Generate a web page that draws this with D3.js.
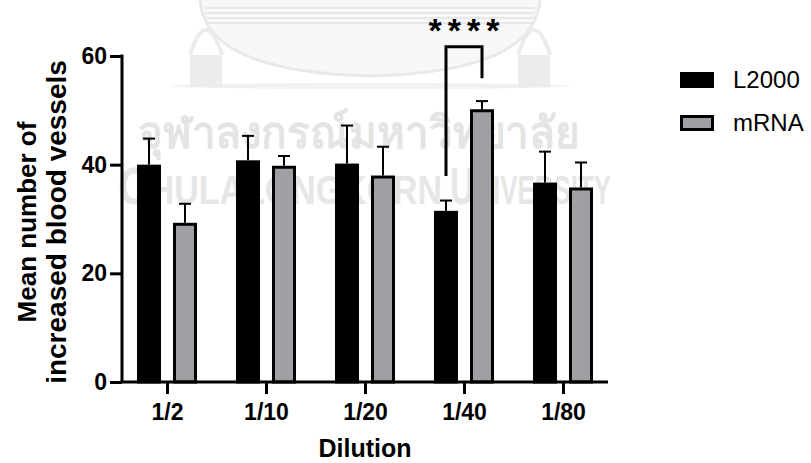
<!DOCTYPE html>
<html>
<head>
<meta charset="utf-8">
<script src="https://cdn.jsdelivr.net/npm/d3@7"></script>
<style>
	body { margin: 0; background: #fff; }
	svg { display: block; font-family: "Liberation Sans", Arial, sans-serif; }
</style>
</head>
<body>
<svg id="chart" width="811" height="463"></svg>
<script>
// data
var categories = ["1/2", "1/10", "1/20", "1/40", "1/80"];
var l2000 = [40.0, 40.8, 40.2, 31.5, 36.7];
var l2000Err = [4.8, 4.5, 7.0, 1.9, 5.7];
var mrna = [29.3, 39.8, 38.0, 50.2, 35.8];
var mrnaErr = [3.5, 1.8, 5.3, 1.5, 4.6];
var seriesNames = ["L2000", "mRNA"];
var yTicks = [0, 20, 40, 60];
// significance bracket (1/40 group), y values in data units
var sigGroup = "1/40";
var sigTop = 61.7;
var sigLeftEnd = 37.9;
var sigRightEnd = 55.9;
var sigLabel = "****";

var colors = {"L2000": "#000000", "mRNA": "#a09fa4"};

var svg = d3.select('#chart');
var x0 = 122, x1 = 608, yTop = 56, yBot = 382;

var x = d3.scalePoint().domain(categories).range([x0, x1]).padding(0.4545);
var sub = d3.scalePoint().domain(seriesNames).range([-18, 18]);
var y = d3.scaleLinear().domain([0, 60]).range([yBot, yTop]);
var barW = 24;

function watermark(){
	var g = svg.append('g').attr('class', 'watermark');
	// emblem outline (faint background logo)
	g.append('path')
		.attr('d', 'M200,0 Q205,72 370,76 Q535,72 540,0')
		.attr('fill', '#f8f8f8')
		.attr('stroke', '#e9e9e9')
		.attr('stroke-width', 3);
	[8, 13, 18, 23].forEach(function(yy){
		g.append('line')
			.attr('x1', 205).attr('x2', 535)
			.attr('y1', yy).attr('y2', yy)
			.attr('stroke', '#e7e7e7').attr('stroke-width', 2);
	})
	g.append('ellipse')
		.attr('cx', 370).attr('cy', 86).attr('rx', 200).attr('ry', 3)
		.attr('fill', '#f1f1f1');
	[[190, 222], [518, 550]].forEach(function(t){
		g.append('rect')
			.attr('x', t[0]).attr('y', 55).attr('width', t[1]-t[0]).attr('height', 32)
			.attr('fill', '#ececec');
		g.append('path')
			.attr('d', 'M' + t[0] + ',55 Q' + ((t[0]+t[1])/2) + ',5 ' + t[1] + ',55')
			.attr('fill', 'none').attr('stroke', '#ebebeb').attr('stroke-width', 4);
	})
	g.append('text')
		.attr('x', 138).attr('y', 148)
		.attr('textLength', 442)
		.attr('lengthAdjust', 'spacingAndGlyphs')
		.attr('font-size', 44)
		.attr('font-weight', 'bold')
		.attr('fill', '#e4e4e4')
		.text('จุฬาลงกรณ์มหาวิทยาลัย');
	// "CHULALONGKORN UNIVERSITY" in small caps, squeezed to width
	var words = [["C", "HULALONGKORN", 118, 324], ["U", "NIVERSITY", 450, 161]];
	words.forEach(function(w){
		var t = g.append('text')
			.attr('font-weight', 'bold')
			.attr('fill', '#e6e6e6');
		t.append('tspan').attr('font-size', 52).text(w[0]);
		t.append('tspan').attr('font-size', 40).text(w[1]);
		var len = t.node().getComputedTextLength();
		t.attr('transform', 'translate(' + w[2] + ',204) scale(' + (w[3] / len) + ',1)');
	})
}

function drawBars(){
	var rows = [];
	categories.forEach(function(c, i){
		rows.push({cat: c, s: "L2000", v: l2000[i], e: l2000Err[i]});
		rows.push({cat: c, s: "mRNA", v: mrna[i], e: mrnaErr[i]});
	})
	var g = svg.append('g');
	rows.forEach(function(r){
		var cx = x(r.cat) + sub(r.s);
		// error bar (upper only)
		g.append('line')
			.attr('x1', cx).attr('x2', cx)
			.attr('y1', y(r.v)).attr('y2', y(r.v + r.e))
			.attr('stroke', 'black').attr('stroke-width', 2);
		g.append('line')
			.attr('x1', cx - 6).attr('x2', cx + 6)
			.attr('y1', y(r.v + r.e)).attr('y2', y(r.v + r.e))
			.attr('stroke', 'black').attr('stroke-width', 2);
		g.append('rect')
			.attr('x', cx - barW/2 + 1.5)
			.attr('y', y(r.v) + 1.5)
			.attr('width', barW - 3)
			.attr('height', y(0) - y(r.v) - 1.5)
			.attr('fill', colors[r.s])
			.attr('stroke', 'black')
			.attr('stroke-width', 3);
	})
}

function drawAxes(){
	var font = '"Liberation Sans", Arial, sans-serif';
	var ya = svg.append('g')
		.attr('transform', 'translate(' + x0 + ',0)')
		.call(d3.axisLeft(y).tickValues(yTicks).tickSize(12).tickPadding(3).tickSizeOuter(0));
	ya.select('.domain').attr('stroke-width', 3).attr('d', 'M0,' + (yTop - 1.5) + 'V' + yBot);
	ya.selectAll('.tick line').attr('stroke-width', 3);
	ya.selectAll('.tick text')
		.attr('font-family', font).attr('font-size', 23).attr('font-weight', 'bold').attr('fill', 'black');

	var xa = svg.append('g')
		.attr('transform', 'translate(0,' + yBot + ')')
		.call(d3.axisBottom(x).tickSize(12).tickPadding(10).tickSizeOuter(0));
	xa.select('.domain').attr('stroke-width', 3).attr('d', 'M' + (x0 - 1.5) + ',0H' + x1);
	xa.selectAll('.tick line').attr('stroke-width', 3);
	xa.selectAll('.tick text')
		.attr('font-family', font).attr('font-size', 23).attr('font-weight', 'bold').attr('fill', 'black');

	svg.append('text')
		.attr('x', 365).attr('y', 457)
		.attr('text-anchor', 'middle')
		.attr('font-size', 25).attr('font-weight', 'bold')
		.text('Dilution');

	var lines = [["Mean number of", 36, 26], ["increased blood vessels", 66, 28]];
	lines.forEach(function(l){
		svg.append('text')
			.attr('transform', 'translate(' + l[1] + ',222) rotate(-90)')
			.attr('text-anchor', 'middle')
			.attr('font-size', l[2]).attr('font-weight', 'bold')
			.text(l[0]);
	})
}

function drawSig(){
	var xl = x(sigGroup) + sub("L2000");
	var xr = x(sigGroup) + sub("mRNA");
	svg.append('path')
		.attr('d', d3.line()([[xl, y(sigLeftEnd)], [xl, y(sigTop)], [xr, y(sigTop)], [xr, y(sigRightEnd)]]))
		.attr('stroke', 'black')
		.attr('stroke-width', 3)
		.attr('fill', 'none');
	svg.append('text')
		.attr('x', (xl + xr)/2 + 3).attr('y', 42)
		.attr('text-anchor', 'middle')
		.attr('font-size', 34).attr('font-weight', 'bold')
		.attr('letter-spacing', 6)
		.text(sigLabel);
}

function drawLegend(){
	seriesNames.forEach(function(s, i){
		var yy = 72 + i * 43;
		svg.append('rect')
			.attr('x', 681.5).attr('y', yy + 1.5)
			.attr('width', 31).attr('height', 13)
			.attr('fill', colors[s])
			.attr('stroke', 'black')
			.attr('stroke-width', 3);
		svg.append('text')
			.attr('x', 733).attr('y', yy + 16)
			.attr('font-size', 24)
			.text(s);
	})
}

watermark();
drawBars();
drawAxes();
drawSig();
drawLegend();
</script>
</body>
</html>
